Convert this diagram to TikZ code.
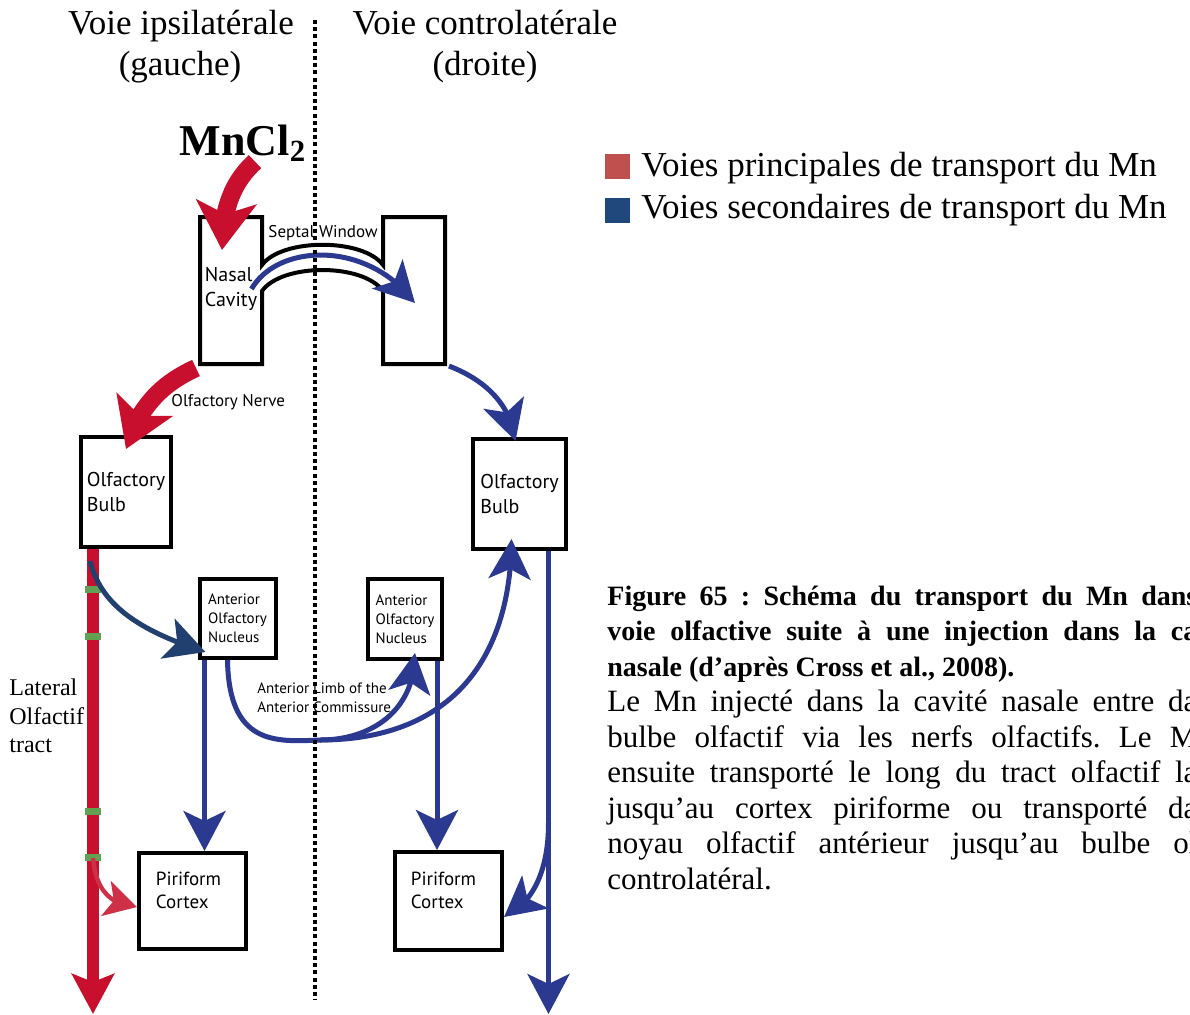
\documentclass[tikz,border=0pt]{standalone}
\usepackage{fontspec}
\setmainfont{Liberation Serif}
\setsansfont{PT Sans}
\usetikzlibrary{arrows.meta,bending,positioning,calc}

\definecolor{nerve}{RGB}{200,16,46}
\definecolor{branchred}{RGB}{206,48,72}
\definecolor{route}{RGB}{43,57,144}
\definecolor{routedark}{RGB}{33,64,112}
\definecolor{band}{RGB}{98,160,84}
\definecolor{legred}{RGB}{192,80,77}
\definecolor{legblue}{RGB}{31,73,125}

\begin{document}
\frenchspacing
\begin{tikzpicture}[x=0.5pt,y=-0.5pt,>=Stealth,font=\sffamily]
\tikzstyle{box}=[draw,line width=2pt,inner sep=0pt,align=left]
\tikzstyle{big}=[font=\sffamily\fontsize{10}{12.5}\selectfont]
\tikzstyle{small}=[font=\sffamily\fontsize{7.5}{9.5}\selectfont]
\tikzstyle{note}=[font=\sffamily\fontsize{8.5}{10}\selectfont,inner sep=0pt,align=left]
\tikzstyle{sec}=[draw=route,line width=2.5pt,-{Stealth[length=20pt,width=21pt,inset=5pt]}]
\tikzstyle{main}=[draw=nerve,line width=9pt,-{Stealth[length=24pt,width=30pt,inset=6pt]}]
\tikzstyle{head}=[anchor=base,inner sep=0pt,font=\fontsize{17.5}{20.5}\selectfont]
\tikzstyle{capline}=[anchor=base west,inner sep=0pt]
\useasboundingbox (0,0) rectangle (1190,1014);
\clip (0,0) rectangle (1190,1014);

% sides
\node[head] (ipsi) at (181,34) {Voie ipsilatérale};
\node[head] (ipsig) at (180,75) {(gauche)};
\node[head] (contra) at (485,34) {Voie controlatérale};
\node[head] (contrad) at (485,75) {(droite)};

% nasal cavities and septal window
\draw[line width=2pt] (200,217) -- (262,217) -- (262,265) .. controls (282,238) and (363,238) .. (383,265)
  -- (383,217) -- (445,217) -- (445,364) -- (383,364) -- (383,291) .. controls (363,263) and (282,263) .. (262,291)
  -- (262,364) -- (200,364) -- cycle;
\node[big,align=left,inner sep=0pt] (nctext) at (231,289) {Nasal\\Cavity};
\node[note] (swlabel) at (323,233) {Septal Window};
\coordinate (ncin) at (222,250);
\coordinate (ncout) at (196,368);
\coordinate (swend) at (415,303);
\coordinate (ncrout) at (449,366);

\node[anchor=base,inner sep=0pt,font=\fontsize{22}{24}\selectfont\bfseries] (mncl) at (243,155) {MnCl\textsubscript{2}};

% boxes
\node[box,big,minimum width=45pt,minimum height=55pt] (obl) at (126,492) {Olfactory\\Bulb};
\node[box,big,minimum width=46.5pt,minimum height=55pt] (obr) at (519.5,494) {Olfactory\\Bulb};
\node[box,small,minimum width=38pt,minimum height=39.5pt] (aonl) at (237.5,618.5) {Anterior\\Olfactory\\Nucleus};
\node[box,small,minimum width=37pt,minimum height=40pt] (aonr) at (405,619) {Anterior\\Olfactory\\Nucleus};
\node[box,minimum width=53.5pt,minimum height=48pt] (pcl) at (192.5,901) {};
\node[box,minimum width=53.5pt,minimum height=49pt] (pcr) at (448.5,901) {};
\node[big,align=left,inner sep=0pt,font=\sffamily\fontsize{9.5}{11.5}\selectfont] (pcltext) at (188.5,890) {Piriform\\Cortex};
\node[big,align=left,inner sep=0pt,font=\sffamily\fontsize{9.5}{11.5}\selectfont] (pcrtext) at (443.5,890) {Piriform\\Cortex};

\node[note,anchor=west] (nervelabel) at (171,402) {Olfactory Nerve};
\node[note,anchor=west,font=\sffamily\fontsize{7.5}{9.5}\selectfont] (aclabel) at (257,698) {Anterior Limb of the\\Anterior Commissure};
\node[anchor=west,align=left,inner sep=0pt,font=\fontsize{12}{14.25}\selectfont] (lotlabel) at (9,716) {Lateral\\Olfactif\\tract};

% main routes (red)
\coordinate (outl) at (93,1014);
\coordinate (lsplit) at (93,858);
\draw[main] ([xshift=6pt]mncl.south) .. controls (235,180) and (222,205) .. (ncin);
\draw[main] (ncout) .. controls (170,380) and (140,400) .. ([yshift=-7pt]obl.north);
\draw[draw=nerve,line width=6pt,-{Stealth[length=20pt,width=21pt,inset=4pt]}] ([xshift=-16.5pt]obl.south) -- (outl);
\foreach \y in {589,636,811,857}
  \fill[band] (85,\y-3.5) rectangle (101,\y+3.5);
\draw[draw=branchred,line width=2.2pt,-{Stealth[length=16pt,width=18pt,inset=4pt]}] (lsplit) .. controls (96,890) and (110,905) .. ([yshift=-3pt]pcl.west);

% secondary routes (blue)
\coordinate (outr) at (548.5,1014);
\coordinate (rsplit) at (548.5,823);
\coordinate (acbot) at (320,740);
\draw[sec] ([xshift=-3pt]nctext.east) .. controls (278,243) and (368,240) .. (swend);
\draw[sec] (ncrout) .. controls (480,378) and (510,400) .. ([shift={(-2pt,-2pt)}]obr.north);
\draw[sec,draw=routedark] ([shift={(5.5pt,-6pt)}]obl.south west) .. controls (100,600) and (130,628) .. ([shift={(4pt,4pt)}]aonl.south west);
\draw[sec] ([xshift=-16.5pt]aonl.south) -- ([xshift=6pt]pcl.north);
\draw[sec] ([xshift=16pt]aonr.south) -- ([xshift=-5.75pt]pcr.north);
\draw[sec] ([xshift=-5pt]aonl.south) .. controls (229,745) and (275,742) .. (acbot)
  .. controls (370,740) and (415,712) .. ([shift={(5pt,4pt)}]aonr.south);
\draw[sec] (acbot) .. controls (450,740) and (511,660) .. ([shift={(-4pt,6pt)}]obr.south);
\draw[sec] ([xshift=14.5pt]obr.south) -- (outr);
\draw[sec] (rsplit) .. controls (548.5,875) and (530,905) .. ([yshift=-8pt]pcr.east);

% midline
\coordinate (midtop) at (315,20);
\coordinate (midbot) at (315,1000);
\draw[line width=2pt,dash pattern=on 2pt off 1.6pt] (midtop) -- (midbot);

% legend
\node[fill=legred,minimum size=12.5pt,inner sep=0pt] (sqmain) at (617.5,166.5) {};
\node[fill=legblue,minimum size=12.5pt,inner sep=0pt] (sqsec) at (617.5,210.5) {};
\node[capline,font=\fontsize{17.5}{20}\selectfont] (legmain) at (641,176) {Voies principales de transport du Mn};
\node[capline,font=\fontsize{17.5}{20}\selectfont] (legsec) at (641,218) {Voies secondaires de transport du Mn};

% caption
\begin{scope}[every node/.append style={capline,font=\fontsize{14}{17}\selectfont\bfseries}]
\node (cap1) at (607,605) {\makebox[295pt][s]{Figure 65 : Schéma du transport du Mn dans}};
\node (cap2) at (607,640.5) {\makebox[295pt][s]{voie olfactive suite à une injection dans la ca}};
\node (cap3) at (607,676) {nasale (d'après Cross et al., 2008).};
\end{scope}
\begin{scope}[every node/.append style={capline,font=\fontsize{15.5}{18}\selectfont}]
\node (cap4) at (607,711.5) {\makebox[295pt][s]{Le Mn injecté dans la cavité nasale entre da}};
\node (cap5) at (607,747) {\makebox[295pt][s]{bulbe olfactif via les nerfs olfactifs. Le M}};
\node (cap6) at (607,782.5) {\makebox[295pt][s]{ensuite transporté le long du tract olfactif la}};
\node (cap7) at (607,818) {\makebox[295pt][s]{jusqu’au cortex piriforme ou transporté da}};
\node (cap8) at (607,853.5) {\makebox[295pt][s]{noyau olfactif antérieur jusqu’au bulbe ol}};
\node (cap9) at (607,889) {controlatéral.};
\end{scope}
\end{tikzpicture}
\end{document}
